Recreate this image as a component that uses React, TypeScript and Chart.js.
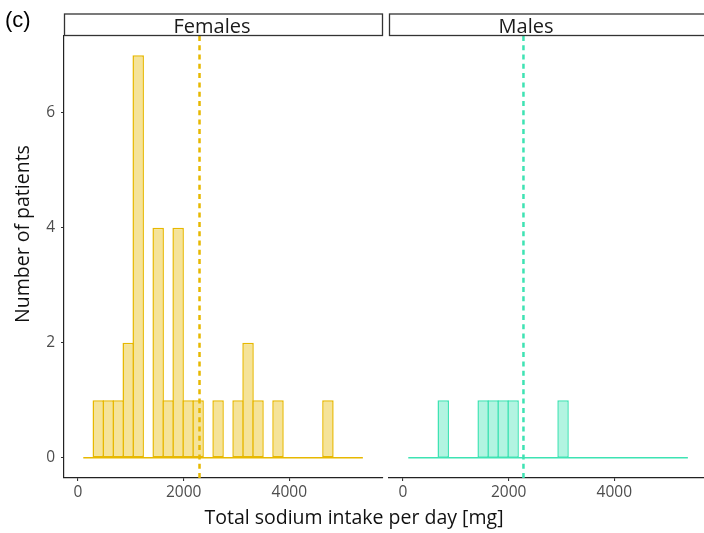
import React, { useEffect, useRef } from "react";
import { Chart, registerables } from "chart.js";

Chart.register(...registerables);

// ---- data ----
const panelLabels = ["Females", "Males"];
const binStart = 100; // mg, left edge of first bin
const binWidth = 189; // mg
const femaleCounts = [0, 1, 1, 1, 2, 7, 0, 4, 1, 4, 1, 1, 0, 1, 0, 1, 2, 1, 0, 1, 0, 0, 0, 0, 1, 0, 0, 0];
const maleCounts = [0, 0, 0, 1, 0, 0, 0, 1, 1, 1, 1, 0, 0, 0, 0, 1, 0, 0, 0, 0, 0, 0, 0, 0, 0, 0, 0, 0];
const femaleMean = 2300;
const maleMean = 2280;
const xTicks = [0, 2000, 4000];
const yTicks = [0, 2, 4, 6];
const xRange = [-265, 5773];
const yRange = [-0.35, 7.335];
const xTitle = "Total sodium intake per day [mg]";
const yTitle = "Number of patients";
const panelTag = "(c)";

const FONT = "'Open Sans', 'Noto Sans', sans-serif";
const TICK_COLOR = "#4D4D4D";
const AXIS_COLOR = "#222222";

const femaleStroke = "#E7B800";
const femaleFill = "#F5E399";
const maleStroke = "#3EE3B3";
const maleFill = "#B2F4E1";

function drawStrip(ctx: CanvasRenderingContext2D, left: number, right: number, label: string, textX: number) {
  ctx.save();
  ctx.fillStyle = "#ffffff";
  ctx.fillRect(left, 14, right - left, 22);
  ctx.strokeStyle = "#333333";
  ctx.lineWidth = 1.3;
  ctx.strokeRect(left + 0.5, 14, right - left - 1, 21.5);
  ctx.fillStyle = "#1A1A1A";
  ctx.font = `20px ${FONT}`;
  ctx.textAlign = "center";
  ctx.textBaseline = "alphabetic";
  ctx.fillText(label, textX, 32.5);
  ctx.restore();
}

function makeConfig(
  counts: number[],
  stroke: string,
  fill: string,
  mean: number,
  showY: boolean,
  padding: { left: number; right: number; top: number; bottom: number },
  plugin: any
): any {
  const bars = counts.map((c, i) => ({ x: binStart + binWidth * (i + 0.5), y: c === 0 ? null : c }));
  const baseline = [
    { x: binStart, y: 0 },
    { x: binStart + binWidth * counts.length, y: 0 },
  ];
  const vline = [
    { x: mean, y: yRange[0] },
    { x: mean, y: yRange[1] },
  ];
  return {
    type: "bar",
    data: {
      datasets: [
        {
          type: "bar",
          data: bars,
          backgroundColor: fill,
          borderColor: stroke,
          borderWidth: 1.5,
          borderSkipped: false,
          barPercentage: 1.15,
          categoryPercentage: 1,
          order: 3,
        },
        {
          type: "line",
          data: baseline,
          borderColor: stroke,
          borderWidth: 1.5,
          pointRadius: 0,
          fill: false,
          order: 2,
        },
        {
          type: "line",
          data: vline,
          borderColor: stroke,
          borderWidth: 2.5,
          borderDash: [5, 4.3],
          pointRadius: 0,
          fill: false,
          order: 1,
        },
      ],
    },
    options: {
      responsive: false,
      maintainAspectRatio: false,
      animation: false,
      layout: { padding },
      plugins: {
        legend: { display: false },
        title: { display: false },
        tooltip: { enabled: false },
      },
      scales: {
        x: {
          type: "linear",
          min: xRange[0],
          max: xRange[1],
          bounds: "data",
          offset: false,
          afterBuildTicks: (scale: any) => {
            scale.ticks = xTicks.map((v) => ({ value: v }));
          },
          afterFit: (scale: any) => {
            scale.height = 30;
          },
          grid: {
            display: true,
            offset: false,
            drawOnChartArea: false,
            drawTicks: true,
            tickLength: 3,
            color: "#333333",
            lineWidth: 1.1,
          },
          border: { display: true, color: AXIS_COLOR, width: 1.2 },
          ticks: {
            color: TICK_COLOR,
            font: { family: FONT, size: 15.5 },
            padding: 2,
            maxRotation: 0,
            autoSkip: false,
            callback: (v: any) => String(v),
          },
        },
        y: {
          type: "linear",
          display: showY,
          min: yRange[0],
          max: yRange[1],
          bounds: "data",
          afterBuildTicks: (scale: any) => {
            scale.ticks = yTicks.map((v) => ({ value: v }));
          },
          afterFit: (scale: any) => {
            scale.width = showY ? 64 : 0;
          },
          grid: {
            display: true,
            drawOnChartArea: false,
            drawTicks: true,
            tickLength: 3,
            color: "#333333",
            lineWidth: 1.1,
          },
          border: { display: true, color: AXIS_COLOR, width: 1.2 },
          ticks: {
            color: TICK_COLOR,
            font: { family: FONT, size: 15.5 },
            padding: 6,
            autoSkip: false,
            callback: (v: any) => String(v),
          },
        },
      },
    },
    plugins: [plugin],
  };
}

export default function App() {
  const leftRef = useRef<HTMLCanvasElement | null>(null);
  const rightRef = useRef<HTMLCanvasElement | null>(null);

  useEffect(() => {
    if (!leftRef.current || !rightRef.current) return;

    const leftPlugin = {
      id: "leftDecor",
      afterDraw(chart: any) {
        const ctx: CanvasRenderingContext2D = chart.ctx;
        const a = chart.chartArea;
        drawStrip(ctx, a.left, a.right, panelLabels[0], 212);
        ctx.save();
        ctx.fillStyle = "#000000";
        ctx.font = "22px 'Liberation Sans', Arial, sans-serif";
        ctx.textAlign = "left";
        ctx.textBaseline = "alphabetic";
        ctx.fillText(panelTag, 5, 27);
        ctx.fillStyle = "#111111";
        ctx.font = `19.5px ${FONT}`;
        ctx.textAlign = "center";
        ctx.fillText(xTitle, 354, 524);
        ctx.translate(29, 234);
        ctx.rotate(-Math.PI / 2);
        ctx.fillText(yTitle, 0, 0);
        ctx.restore();
      },
    };
    const rightPlugin = {
      id: "rightDecor",
      afterDraw(chart: any) {
        const a = chart.chartArea;
        drawStrip(chart.ctx, a.left, a.right, panelLabels[1], 526);
      },
    };

    const left = new Chart(
      leftRef.current,
      makeConfig(femaleCounts, femaleStroke, femaleFill, femaleMean, true, { left: 0, right: 321, top: 36, bottom: 25 }, leftPlugin)
    );
    const right = new Chart(
      rightRef.current,
      makeConfig(maleCounts, maleStroke, maleFill, maleMean, false, { left: 389, right: 12, top: 36, bottom: 25 }, rightPlugin)
    );
    return () => {
      left.destroy();
      right.destroy();
    };
  }, []);

  return (
    <div
      style={{
        position: "fixed",
        left: 0,
        top: 0,
        width: 704,
        height: 533,
        overflow: "hidden",
        background: "#ffffff",
      }}
    >
      <canvas ref={leftRef} width={704} height={533} style={{ position: "absolute", left: 0, top: 0 }} />
      <canvas ref={rightRef} width={720} height={533} style={{ position: "absolute", left: 0, top: 0 }} />
    </div>
  );
}
